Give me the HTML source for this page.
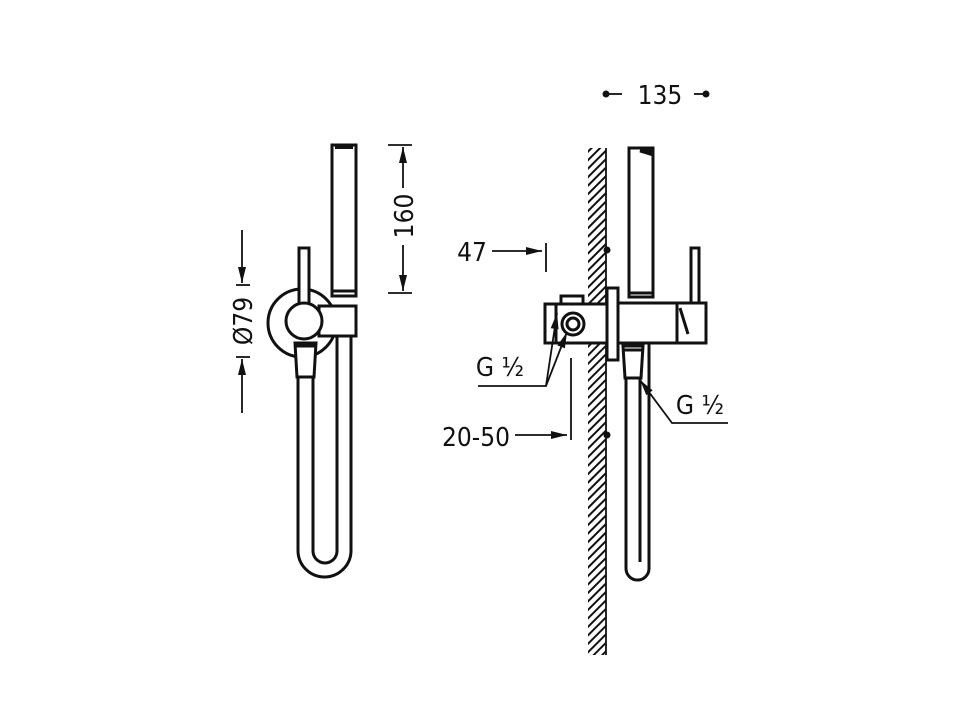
<!DOCTYPE html>
<html><head><meta charset="utf-8"><style>
html,body{margin:0;padding:0;background:#fff;}
svg{display:block;}
text{font-family:"DejaVu Sans Condensed","Liberation Sans",sans-serif;fill:#111;}
</style></head><body>
<svg width="960" height="720" viewBox="0 0 960 720" xmlns="http://www.w3.org/2000/svg">
<defs>
<pattern id="h" width="6" height="6" patternUnits="userSpaceOnUse" patternTransform="rotate(-45)">
<rect width="6" height="6" fill="#fff"/><rect width="6" height="2" fill="#111"/>
</pattern>
<marker id="a" markerWidth="16" markerHeight="8" refX="16" refY="4" orient="auto" markerUnits="userSpaceOnUse">
<path d="M0,0 L16,4 L0,8 z" fill="#111"/></marker>
</defs>
<g fill="none" stroke="#111" stroke-width="3">
<!-- LEFT VIEW -->
<circle cx="302" cy="323" r="34" fill="#fff"/>
<rect x="332" y="145" width="24" height="151" fill="#fff"/>
<rect x="335" y="146" width="18" height="3" fill="#111" stroke="none"/>
<line x1="332" y1="291" x2="356" y2="291"/>
<rect x="299" y="248" width="10" height="56" fill="#fff"/>
<path d="M298,377 L298,550.5 A26.5,26.5 0 0 0 351,550.5 L351,336"/>
<path d="M313,377 L313,551 A12,12 0 0 0 337,551 L337,336"/>
<rect x="319" y="306" width="37" height="30" fill="#fff"/>
<circle cx="304" cy="321" r="18" fill="#fff"/>
<path d="M295,343 L316,343 L314,377 L297,377 z" fill="#fff"/>
<line x1="295" y1="346" x2="316" y2="346"/>
<!-- dims left -->
<line x1="388" y1="145" x2="412" y2="145" stroke-width="1.8"/>
<line x1="388" y1="293" x2="412" y2="293" stroke-width="1.8"/>
<line x1="403" y1="188" x2="403" y2="147" stroke-width="1.8" marker-end="url(#a)"/>
<line x1="403" y1="245" x2="403" y2="291" stroke-width="1.8" marker-end="url(#a)"/>
<line x1="236" y1="285" x2="250" y2="285" stroke-width="1.8"/>
<line x1="236" y1="357" x2="250" y2="357" stroke-width="1.8"/>
<line x1="242" y1="230" x2="242" y2="283" stroke-width="1.8" marker-end="url(#a)"/>
<line x1="242" y1="413" x2="242" y2="359" stroke-width="1.8" marker-end="url(#a)"/>
<!-- RIGHT VIEW wall -->
<rect x="588" y="148" width="18" height="507" fill="url(#h)" stroke="none"/>
<line x1="606" y1="148" x2="606" y2="655" stroke-width="1.8"/>
<circle cx="607" cy="250" r="3.5" fill="#111" stroke="none"/>
<circle cx="607" cy="435" r="3.5" fill="#111" stroke="none"/>
<!-- hose right -->
<path d="M626,378 L626,568.5 A11.5,11.5 0 0 0 649,568.5 L649,343"/>
<line x1="640" y1="378" x2="640" y2="562"/>
<rect x="629" y="148" width="24" height="149" fill="#fff"/>
<path d="M640,151 L650,151 L650,154 Z" fill="#111"/>
<line x1="629" y1="293" x2="653" y2="293"/>
<rect x="691" y="248" width="8" height="55" fill="#fff"/>
<rect x="545" y="304" width="62" height="39" fill="#fff"/>
<rect x="561" y="296" width="22" height="8" fill="#fff"/>
<line x1="556" y1="304" x2="556" y2="343"/>
<circle cx="573" cy="324" r="11" fill="#fff"/>
<circle cx="573" cy="324" r="6"/>
<rect x="607" y="288" width="11" height="72" fill="#fff"/>
<rect x="618" y="303" width="59" height="40" fill="#fff"/>
<rect x="677" y="303" width="29" height="40" fill="#fff"/>
<path d="M680,308 L688,334"/>
<path d="M623,346 L643,346 L641,378 L625,378 z" fill="#fff"/>
<line x1="624" y1="350" x2="642" y2="350"/>
<!-- dims right -->
<line x1="492" y1="251" x2="542" y2="251" stroke-width="1.8" marker-end="url(#a)"/>
<line x1="546" y1="243" x2="546" y2="272" stroke-width="1.8"/>
<line x1="515" y1="435" x2="567" y2="435" stroke-width="1.8" marker-end="url(#a)"/>
<line x1="571" y1="358" x2="571" y2="440" stroke-width="1.8"/>
<polyline points="478,386 546,386 557,313" stroke-width="1.8" marker-end="url(#a)"/>
<line x1="546" y1="386" x2="567" y2="332" stroke-width="1.8" marker-end="url(#a)"/>
<polyline points="728,423 672,423 640,380" stroke-width="1.8" marker-end="url(#a)"/>
<line x1="609" y1="94" x2="622" y2="94" stroke-width="1.8"/>
<line x1="694" y1="94" x2="704" y2="94" stroke-width="1.8"/>
<circle cx="606" cy="94" r="3.5" fill="#111" stroke="none"/>
<circle cx="706" cy="94" r="3.5" fill="#111" stroke="none"/>
</g>
<text x="660" y="104" font-size="26" text-anchor="middle">135</text>
<text x="472" y="261" font-size="26" text-anchor="middle">47</text>
<text x="476" y="446" font-size="26" text-anchor="middle">20-50</text>
<text x="500" y="376" font-size="26" text-anchor="middle">G ½</text>
<text x="700" y="414" font-size="26" text-anchor="middle">G ½</text>
<text transform="translate(413,216) rotate(-90)" font-size="26" text-anchor="middle">160</text>
<text transform="translate(252,321) rotate(-90)" font-size="26" text-anchor="middle">Ø79</text>
</svg>
</body></html>
